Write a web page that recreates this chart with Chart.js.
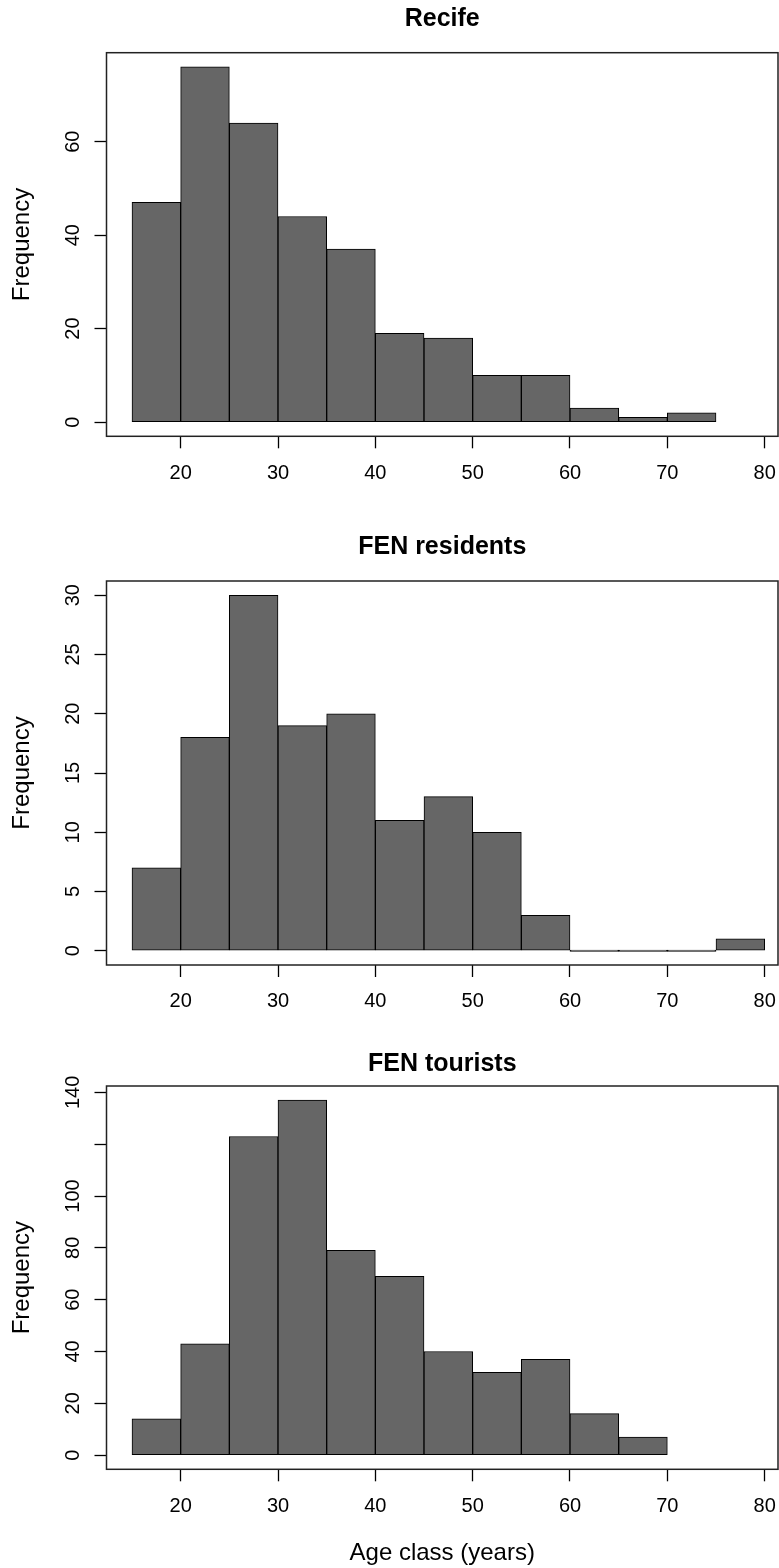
<!DOCTYPE html>
<html><head><meta charset="utf-8">
<script src="https://cdn.jsdelivr.net/npm/chart.js@4.4.1/dist/chart.umd.min.js"></script>
<style>
html,body{margin:0;padding:0;background:#fff;overflow:hidden;}
#wrap{position:relative;width:779px;height:1568px;overflow:hidden;background:#fff;}
canvas{position:absolute;left:0;}
</style></head><body>
<div id="wrap">
<canvas id="c1" width="779" height="510" style="top:0px"></canvas>
<canvas id="c2" width="779" height="520" style="top:510px"></canvas>
<canvas id="c3" width="779" height="538" style="top:1030px"></canvas>
</div>
<script>
// ---- data ----
const binEdges = [15,20,25,30,35,40,45,50,55,60,65,70,75,80];
const recifeCounts = [47,76,64,44,37,19,18,10,10,3,1,2];
const residentsCounts = [7,18,30,19,20,11,13,10,3,0,0,0,1];
const touristsCounts = [14,43,123,137,79,69,40,32,37,16,7];
const panelTitles = ['Recife','FEN residents','FEN tourists'];
const xTicks = [20,30,40,50,60,70,80];
const xTickLabels = ['20','30','40','50','60','70','80'];
const recifeYTicks = [0,20,40,60];
const recifeYTickLabels = ['0','20','40','60'];
const residentsYTicks = [0,5,10,15,20,25,30];
const residentsYTickLabels = ['0','5','10','15','20','25','30'];
const touristsYTicks = [0,20,40,60,80,100,120,140];
const touristsYTickLabels = ['0','20','40','60','80','100','','140'];
const yAxisTitle = 'Frequency';
const xAxisTitle = 'Age class (years)';

const FONT = "'Liberation Sans', Arial, Helvetica, sans-serif";
Chart.defaults.font.family = FONT;
Chart.defaults.color = '#000';

const boxPlugin = {
  id: 'box',
  afterDatasetsDraw(chart) {
    const {ctx, chartArea: a} = chart;
    ctx.save();
    ctx.strokeStyle = '#222';
    ctx.lineWidth = 1.5;
    ctx.strokeRect(a.left, a.top, a.right - a.left, a.bottom - a.top);
    ctx.restore();
  }
};

function histogram(id, title, counts, yTicks, yLabels, L) {
  const maxC = Math.max(...counts);
  const data = counts.map((c, i) => ({x: (binEdges[i] + binEdges[i + 1]) / 2, y: c}));
  return new Chart(document.getElementById(id), {
    type: 'bar',
    data: {datasets: [{
      data,
      backgroundColor: '#666666',
      borderColor: '#000',
      borderWidth: 1,
      borderSkipped: false,
      barPercentage: 1,
      categoryPercentage: 1,
      minBarLength: L.minBar || 0
    }]},
    options: {
      responsive: false,
      animation: false,
      devicePixelRatio: 1,
      events: [],
      layout: {padding: {left: 0, right: 1, top: 0, bottom: L.padBottom}},
      plugins: {
        legend: {display: false},
        tooltip: {enabled: false},
        title: {display: true, text: title, fullSize: false, color: '#000',
          font: {size: 25, weight: 'bold'}, padding: {top: L.tTop, bottom: L.tBottom}}
      },
      scales: {
        x: {
          type: 'linear', min: 12.38, max: 81.37, offset: false, bounds: 'data',
          afterBuildTicks: s => { s.ticks = xTicks.map(v => ({value: v})); },
          afterFit: s => { s.height = L.xHeight; s.paddingLeft = 0; s.paddingRight = 0; },
          grid: {display: true, drawOnChartArea: false, drawTicks: true, tickLength: 12,
            tickColor: '#000', tickWidth: 1.3, offset: false},
          border: {display: false},
          ticks: {font: {size: 20}, color: '#000', padding: 12.8, maxRotation: 0, minRotation: 0,
            autoSkip: false, callback: (v, i) => xTickLabels[i]},
          title: {display: !!L.xTitle, text: xAxisTitle, color: '#000', font: {size: 24},
            padding: {top: 0, bottom: 0}}
        },
        y: {
          type: 'linear', min: -0.04 * maxC, max: 1.04 * maxC, bounds: 'data',
          afterBuildTicks: s => { s.ticks = yTicks.map(v => ({value: v})); },
          afterFit: s => { s.width = 106.5; s.paddingTop = 0; s.paddingBottom = 0; },
          grid: {drawOnChartArea: false, drawTicks: true, tickLength: 12, tickColor: '#000', tickWidth: 1.3},
          border: {display: false},
          ticks: {font: {size: 20}, color: '#000', padding: L.yPad, minRotation: 90, maxRotation: 90,
            crossAlign: 'center', autoSkip: false, callback: (v, i) => yLabels[i]},
          title: {display: true, text: yAxisTitle, color: '#000', font: {size: 24},
            padding: {top: 8, bottom: 0}}
        }
      }
    },
    plugins: [boxPlugin]
  });
}

histogram('c1', panelTitles[0], recifeCounts, recifeYTicks, recifeYTickLabels,
  {tTop: 4.5, tBottom: 18.2, padBottom: 13.7, xHeight: 60, yPad: 9.6});
histogram('c2', panelTitles[1], residentsCounts, residentsYTicks, residentsYTickLabels,
  {tTop: 22.2, tBottom: 18.8, padBottom: 5, xHeight: 60, yPad: 9.6, minBar: 1.5});
histogram('c3', panelTitles[2], touristsCounts, touristsYTicks, touristsYTickLabels,
  {tTop: 18.8, tBottom: 7.2, padBottom: 0.3, xHeight: 98.4, yPad: 4.0, xTitle: true});
</script>
</body></html>
